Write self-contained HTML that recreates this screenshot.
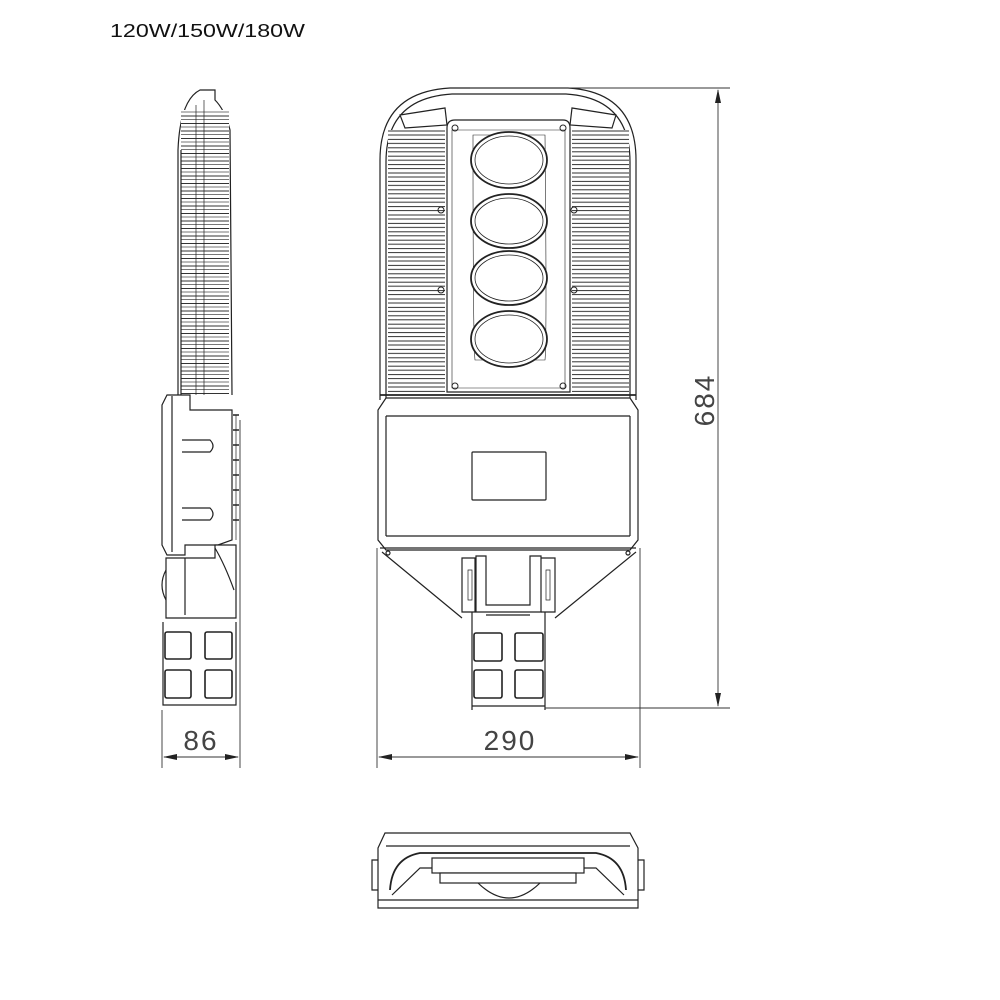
<!DOCTYPE html>
<html><head><meta charset="utf-8"><style>
html,body{margin:0;padding:0;background:#fff}
svg{display:block}
text{font-family:"Liberation Sans",sans-serif}
</style></head><body>
<svg width="1000" height="1000" viewBox="0 0 1000 1000" xmlns="http://www.w3.org/2000/svg">
<defs>
<pattern id="fins" x="0" y="130" width="10" height="8.4" patternUnits="userSpaceOnUse">
<rect x="0" y="0" width="10" height="8.4" fill="#fff"/>
<line x1="0" y1="1" x2="10" y2="1" stroke="#333" stroke-width="1"/>
<line x1="0" y1="5" x2="10" y2="5" stroke="#333" stroke-width="1"/>
</pattern>
<pattern id="sfins" x="0" y="100" width="10" height="7.5" patternUnits="userSpaceOnUse">
<rect width="10" height="7.5" fill="#fff"/>
<line x1="0" y1="1" x2="10" y2="1" stroke="#333" stroke-width="1"/>
<line x1="0" y1="4.5" x2="10" y2="4.5" stroke="#777" stroke-width="1"/>
</pattern>
</defs>
<text x="110" y="37" font-size="18" fill="#111" textLength="195" lengthAdjust="spacingAndGlyphs">120W/150W/180W</text>

<g fill="none" stroke="#222" stroke-width="1.2">
<path d="M380,400 L380,160 Q380,92 450,88 L568,88 Q636,92 636,160 L636,400"/>
<path d="M386,398 L386,162 Q386,98 452,94 L566,94 Q630,98 630,162 L630,398"/>
<rect x="388" y="130" width="57" height="265" fill="url(#fins)" stroke="none"/>
<rect x="572" y="130" width="57" height="265" fill="url(#fins)" stroke="none"/>
<path d="M400,115 L445,108 L447,125 L405,128 Z" fill="#fff"/>
<path d="M616,115 L572,108 L570,125 L612,128 Z" fill="#fff"/>
<path d="M447,392 L447,128 Q447,120 455,120 L563,120 Q570,120 570,128 L570,392 Z" fill="#fff"/>
<path d="M452,388 L452,130 L565,130 L565,388 Z" stroke-width="0.6"/>
<path d="M473,135 Q473,340 475,360 L545,360 Q547,340 545,135 Z" stroke-width="0.6"/>
<g stroke-width="1.8">
<ellipse cx="509" cy="160" rx="38" ry="28" fill="#fff"/>
<ellipse cx="509" cy="221" rx="38" ry="27" fill="#fff"/>
<ellipse cx="509" cy="278" rx="38" ry="27" fill="#fff"/>
<ellipse cx="509" cy="339" rx="38" ry="28" fill="#fff"/>
</g>
<g stroke-width="0.8">
<ellipse cx="509" cy="160" rx="34" ry="24"/>
<ellipse cx="509" cy="221" rx="34" ry="23"/>
<ellipse cx="509" cy="278" rx="34" ry="23"/>
<ellipse cx="509" cy="339" rx="34" ry="24"/>
</g>
<g stroke-width="1">
<circle cx="455" cy="128" r="3"/><circle cx="563" cy="128" r="3"/>
<circle cx="441" cy="210" r="3"/><circle cx="574" cy="210" r="3"/>
<circle cx="441" cy="290" r="3"/><circle cx="574" cy="290" r="3"/>
<circle cx="455" cy="386" r="3"/><circle cx="563" cy="386" r="3"/>
</g>
<line x1="380" y1="395" x2="636" y2="395" stroke-width="1.8"/>

<path d="M386,398 L630,398 L638,410 L638,540 L630,550 L386,550 L378,540 L378,410 Z" fill="#fff"/>
<line x1="386" y1="416" x2="630" y2="416"/>
<line x1="386" y1="536" x2="630" y2="536"/>
<line x1="386" y1="416" x2="386" y2="536"/>
<line x1="630" y1="416" x2="630" y2="536"/>
<rect x="472" y="452" width="74" height="48" rx="1"/>
<line x1="380" y1="548" x2="636" y2="548"/>
<path d="M382,552 L462,618 M636,552 L555,618"/>
<circle cx="388" cy="553" r="2"/><circle cx="628" cy="553" r="2"/>
<path d="M462,558 L462,612 L475,612 L475,558 Z"/>
<path d="M476,556 L486,556 L486,605 L530,605 L530,556 L541,556 L541,612 L476,612 Z"/>
<path d="M541,558 L555,558 L555,612 L541,612"/>
<path d="M468,570 L472,570 L472,600 L468,600 Z M546,570 L550,570 L550,600 L546,600 Z" stroke-width="0.7"/>
<line x1="472" y1="612" x2="472" y2="710"/><line x1="545" y1="612" x2="545" y2="710"/>
<line x1="486" y1="615" x2="530" y2="615"/>
<g stroke-width="1.6">
<rect x="474" y="633" width="28" height="28" rx="2"/>
<rect x="515" y="633" width="28" height="28" rx="2"/>
<rect x="474" y="670" width="28" height="28" rx="2"/>
<rect x="515" y="670" width="28" height="28" rx="2"/>
</g>
<line x1="472" y1="706" x2="545" y2="706"/>

<path d="M178,395 L178,150 Q180,100 200,90 L215,90 L215,100 Q225,110 230,130 L232,395"/>
<rect x="181" y="110" width="48" height="284" fill="url(#sfins)" stroke="none"/>
<line x1="181" y1="150" x2="181" y2="395"/>
<line x1="196" y1="105" x2="196" y2="395" stroke-width="0.7"/>
<line x1="204" y1="100" x2="204" y2="395" stroke-width="0.7"/>
<path d="M167,395 L190,395 L190,410 L232,410 L232,540 L218,545 L185,545 L185,555 L167,555 L162,545 L162,405 Z" fill="#fff"/>
<line x1="172" y1="396" x2="172" y2="552"/>
<path d="M182,440 L210,440 Q216,446 210,452 L182,452 M182,508 L210,508 Q216,514 210,520 L182,520"/>
<line x1="236" y1="415" x2="236" y2="540" stroke-width="0.7"/>
<path d="M233,415 l6,0 M233,430 l6,0 M233,445 l6,0 M233,460 l6,0 M233,475 l6,0 M233,490 l6,0 M233,505 l6,0 M233,520 l6,0" stroke-width="1.4"/>
<path d="M166,558 L215,558 L215,545 L236,545 L236,618 L166,618 Z" fill="#fff"/>
<path d="M215,548 Q225,565 234,590" />
<line x1="185" y1="558" x2="185" y2="615"/>
<path d="M166,570 Q158,585 166,600"/>
<g stroke-width="1.6">
<rect x="165" y="632" width="26" height="27" rx="2"/>
<rect x="205" y="632" width="27" height="27" rx="2"/>
<rect x="165" y="670" width="26" height="28" rx="2"/>
<rect x="205" y="670" width="27" height="28" rx="2"/>
</g>
<path d="M163,622 L163,705 L236,705 L236,622"/>

<path d="M385,833 L630,833 L638,848 L638,908 L378,908 L378,848 Z" fill="#fff"/>
<line x1="378" y1="900" x2="638" y2="900"/>
<line x1="386" y1="846" x2="630" y2="846"/>
<path d="M390,890 Q392,858 420,853 L596,853 Q624,858 626,890" stroke-width="1.8"/>
<path d="M392,895 L420,868 L596,868 L624,895" />
<rect x="432" y="858" width="152" height="15" fill="#fff"/>
<rect x="440" y="873" width="136" height="10" fill="#fff"/>
<path d="M478,883 Q509,913 540,883"/>
<path d="M378,860 L372,860 L372,890 L378,890 M638,860 L644,860 L644,890 L638,890"/>
</g>

<g stroke="#333" stroke-width="0.9" fill="none">
<line x1="470" y1="88" x2="730" y2="88"/>
<line x1="545" y1="708" x2="730" y2="708"/>
<line x1="718" y1="90" x2="718" y2="706"/>
<line x1="377" y1="548" x2="377" y2="768"/>
<line x1="640" y1="548" x2="640" y2="768"/>
<line x1="379" y1="757" x2="638" y2="757"/>
<line x1="162" y1="710" x2="162" y2="768"/>
<line x1="240" y1="420" x2="240" y2="768"/>
<line x1="164" y1="757" x2="238" y2="757"/>
</g>
<g fill="#222">
<path d="M718,89 l-3,14 l6,0 Z"/><path d="M718,707 l-3,-14 l6,0 Z"/>
<path d="M378,757 l14,-3 l0,6 Z"/><path d="M639,757 l-14,-3 l0,6 Z"/>
<path d="M163,757 l14,-3 l0,6 Z"/><path d="M239,757 l-14,-3 l0,6 Z"/>
</g>
<g fill="#444" font-size="28">
<text x="510" y="750" text-anchor="middle" letter-spacing="2">290</text>
<text x="201" y="750" text-anchor="middle" letter-spacing="2">86</text>
<text transform="translate(714,400) rotate(-90)" text-anchor="middle" letter-spacing="2">684</text>
</g>
</svg>
</body></html>
